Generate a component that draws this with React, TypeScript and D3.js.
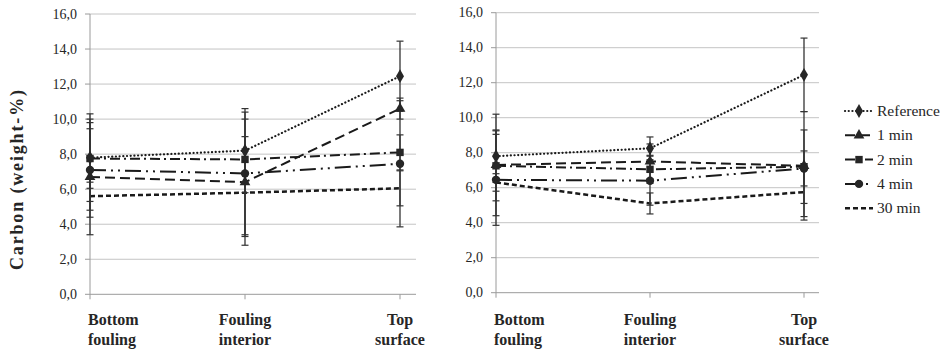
import { useEffect, useRef } from "react";
import * as d3 from "d3";

// Categorías del eje X (dos líneas cada una)
const categories = [
  ["Bottom", "fouling"],
  ["Fouling", "interior"],
  ["Top", "surface"],
];
const seriesNames = ["Reference", "1 min", "2 min", "4 min", "30 min"];
const yTicks = [0, 2, 4, 6, 8, 10, 12, 14, 16];

// Panel izquierdo: medias y error (±)
const leftReference = [7.8, 8.2, 12.45];
const leftReferenceErr = [2.5, 2.4, 2.0];
const left1min = [6.7, 6.4, 10.6];
const left1minErr = [3.3, 3.6, 0.6];
const left2min = [7.75, 7.7, 8.1];
const left2minErr = [1.7, 1.3, 1.0];
const left4min = [7.1, 6.9, 7.45];
const left4minErr = [2.7, 3.5, 3.6];
const left30min = [5.6, 5.8, 6.05];
const left30minErr = [0.8, 2.5, 1.0];

// Panel derecho
const rightReference = [7.8, 8.25, 12.45];
const rightReferenceErr = [1.5, 0.65, 2.1];
const right1min = [7.3, 7.5, 7.25];
const right1minErr = [2.9, 1.0, 3.1];
const right2min = [7.25, 7.05, 7.2];
const right2minErr = [2.0, 0.8, 2.1];
const right4min = [6.45, 6.4, 7.1];
const right4minErr = [2.6, 1.4, 1.0];
const right30min = [6.3, 5.1, 5.75];
const right30minErr = [0.5, 0.6, 1.4];

const FONT = "Liberation Serif";
const INK = "#262626";

const estilos = [
  { dash: "0.1,3.6", cap: "round", width: 2.2, symbol: d3.symbolDiamond, size: 55 },
  { dash: "10,5", cap: "butt", width: 2, symbol: d3.symbolTriangle, size: 50 },
  { dash: "10,4,2,4", cap: "butt", width: 2, symbol: d3.symbolSquare, size: 55 },
  { dash: "16,5,2,5,2,5", cap: "butt", width: 2, symbol: d3.symbolCircle, size: 55 },
  { dash: "5,3", cap: "butt", width: 2.5, symbol: null, size: 0 },
];

const App = () => {
  const ref = useRef<SVGSVGElement | null>(null);

  useEffect(() => {
    if (!ref.current) return;
    const svg = d3.select(ref.current);
    svg.selectAll("*").remove();

    const drawPanel = (
      x0: number,
      x1: number,
      gridEnd: number,
      yTop: number,
      yBottom: number,
      means: number[][],
      errs: number[][]
    ) => {
      const x = d3.scalePoint<number>().domain([0, 1, 2]).range([x0, x1]);
      const y = d3.scaleLinear().domain([0, 16]).range([yBottom, yTop]);
      const g = svg.append("g");

      // Grid
      g.selectAll(".grid")
        .data(yTicks)
        .enter()
        .append("line")
        .attr("x1", x0)
        .attr("x2", gridEnd)
        .attr("y1", (d) => y(d))
        .attr("y2", (d) => y(d))
        .attr("stroke", (d) => (d === 0 ? "#9a9a9a" : "#c4c4c4"))
        .attr("stroke-width", 1);

      // Eje Y
      g.append("line")
        .attr("x1", x0)
        .attr("x2", x0)
        .attr("y1", y(16))
        .attr("y2", y(0))
        .attr("stroke", "#9a9a9a");
      g.selectAll(".ytick")
        .data(yTicks)
        .enter()
        .append("line")
        .attr("x1", x0 - 5)
        .attr("x2", x0)
        .attr("y1", (d) => y(d))
        .attr("y2", (d) => y(d))
        .attr("stroke", "#9a9a9a");
      g.selectAll(".ylabel")
        .data(yTicks)
        .enter()
        .append("text")
        .attr("x", x0 - 13)
        .attr("y", (d) => y(d) + 4.5)
        .attr("text-anchor", "end")
        .attr("font-family", FONT)
        .attr("font-size", 14)
        .attr("fill", INK)
        .text((d) => d3.format(".1f")(d).replace(".", ","));

      // Eje X ticks
      g.selectAll(".xtick")
        .data([0, 1, 2])
        .enter()
        .append("line")
        .attr("x1", (d) => x(d)!)
        .attr("x2", (d) => x(d)!)
        .attr("y1", y(0))
        .attr("y2", y(0) + 5)
        .attr("stroke", "#9a9a9a");

      categories.forEach((lines, i) => {
        const t = g
          .append("text")
          .attr("text-anchor", i === 0 ? "start" : "middle")
          .attr("font-family", FONT)
          .attr("font-size", 16)
          .attr("font-weight", "bold")
          .attr("fill", INK);
        lines.forEach((ln, j) => {
          t.append("tspan")
            .attr("x", i === 0 ? x(i)! - 2 : x(i)!)
            .attr("y", 325 + j * 20)
            .text(ln);
        });
      });

      const linea = d3
        .line<number>()
        .x((_, i) => x(i)!)
        .y((d) => y(d));

      means.forEach((serie, s) => {
        const st = estilos[s];
        g.append("path")
          .datum(serie)
          .attr("d", linea)
          .attr("fill", "none")
          .attr("stroke", "#1a1a1a")
          .attr("stroke-width", st.width)
          .attr("stroke-dasharray", st.dash)
          .attr("stroke-linecap", st.cap);
      });

      // Barras de error
      means.forEach((serie, s) => {
        serie.forEach((v, i) => {
          const e = errs[s][i];
          const cx = x(i)!;
          g.append("line")
            .attr("x1", cx)
            .attr("x2", cx)
            .attr("y1", y(v + e))
            .attr("y2", y(v - e))
            .attr("stroke", "#333")
            .attr("stroke-width", 1.3);
          [v + e, v - e].forEach((c) => {
            g.append("line")
              .attr("x1", cx - 3.5)
              .attr("x2", cx + 3.5)
              .attr("y1", y(c))
              .attr("y2", y(c))
              .attr("stroke", "#333")
              .attr("stroke-width", 1.2);
          });
        });
      });

      // Marcadores
      means.forEach((serie, s) => {
        const st = estilos[s];
        if (!st.symbol) return;
        g.selectAll(`.m${s}`)
          .data(serie)
          .enter()
          .append("path")
          .attr("d", d3.symbol().type(st.symbol).size(st.size)())
          .attr("transform", (d, i) => `translate(${x(i)},${y(d)})`)
          .attr("fill", INK);
      });
    };

    drawPanel(
      90, 400, 416, 14, 294.3,
      [leftReference, left1min, left2min, left4min, left30min],
      [leftReferenceErr, left1minErr, left2minErr, left4minErr, left30minErr]
    );
    drawPanel(
      496, 804, 819, 12.7, 292.7,
      [rightReference, right1min, right2min, right4min, right30min],
      [rightReferenceErr, right1minErr, right2minErr, right4minErr, right30minErr]
    );

    // Título del eje Y
    svg
      .append("text")
      .attr("transform", "translate(23,180) rotate(-90)")
      .attr("text-anchor", "middle")
      .attr("textLength", 180)
      .attr("lengthAdjust", "spacing")
      .attr("font-family", FONT)
      .attr("font-size", 18)
      .attr("font-weight", "bold")
      .attr("fill", INK)
      .text("Carbon (weight-%)");

    // Leyenda
    const leyenda = svg.append("g");
    seriesNames.forEach((name, s) => {
      const st = estilos[s];
      const ly = 111 + s * 24.3;
      leyenda
        .append("line")
        .attr("x1", 845)
        .attr("x2", 873)
        .attr("y1", ly)
        .attr("y2", ly)
        .attr("stroke", "#1a1a1a")
        .attr("stroke-width", st.width)
        .attr("stroke-dasharray", st.dash)
        .attr("stroke-linecap", st.cap);
      if (st.symbol) {
        leyenda
          .append("path")
          .attr("d", d3.symbol().type(st.symbol).size(st.size)())
          .attr("transform", `translate(859,${ly})`)
          .attr("fill", INK);
      }
      leyenda
        .append("text")
        .attr("x", 877)
        .attr("y", ly + 5)
        .attr("font-family", FONT)
        .attr("font-size", 15.5)
        .attr("fill", INK)
        .text(name);
    });
  }, []);

  return (
    <svg
      ref={ref}
      width={946}
      height={351}
      style={{ position: "absolute", left: 0, top: 0, background: "#fff", fontFamily: FONT }}
    />
  );
};

export default App;
